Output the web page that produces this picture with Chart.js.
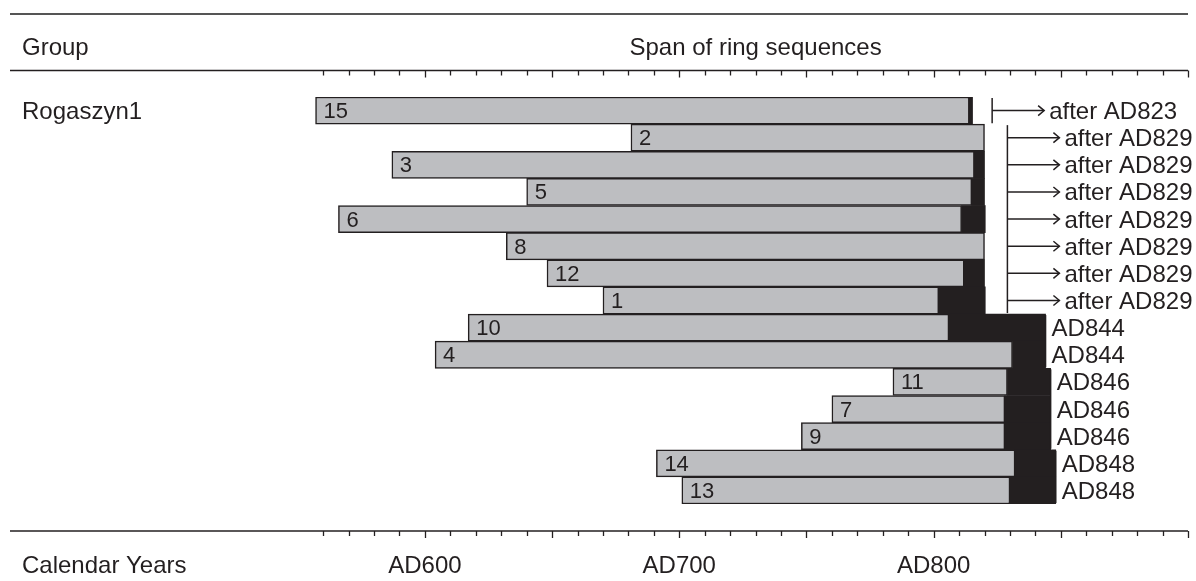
<!DOCTYPE html>
<html>
<head>
    <title>Rogaszyn1 ring sequences</title>
    <script src="https://cdn.jsdelivr.net/npm/chart.js"></script>
    <style>
        body { margin: 0; background: #fff; }
    </style>
</head>
<body>
    <canvas id="spanChart" width="1196" height="581"></canvas>
    <script>
        // samples, top to bottom
        const samples = ['15', '2', '3', '5', '6', '8', '12', '1', '10', '4', '11', '7', '9', '14', '13'];
        // first ring (grey part starts)
        const firstYear = [557, 681, 587, 640, 566, 632, 648, 670, 617, 604, 784, 760, 748, 691, 701];
        // end of heartwood (grey part ends)
        const heartEnd = [814, 820, 816, 815, 811, 820, 812, 802, 806, 831, 829, 828, 828, 832, 830];
        // end of sapwood (black part ends), null = none
        const sapEnd = [815.3, null, 820, 820, 820.3, null, 820, 820.3, 844, 844, 846, 846, 846, 848, 848];
        // felling dates
        const fellYear = [823, 829, 829, 829, 829, 829, 829, 829, 844, 844, 846, 846, 846, 848, 848];
        const fellText = ['after AD823', 'after AD829', 'after AD829', 'after AD829', 'after AD829',
            'after AD829', 'after AD829', 'after AD829', 'AD844', 'AD844', 'AD846', 'AD846', 'AD846', 'AD848', 'AD848'];
        const groupName = 'Rogaszyn1';
        const axisYears = [600, 700, 800];
        const axisLabels = ['AD600', 'AD700', 'AD800'];
        const tickFrom = 560, tickTo = 900;

        const ink = '#231f20';
        const font = '"Liberation Sans", Arial, sans-serif';

        function txt(ctx, s, x, y, size, align) {
            ctx.font = size + 'px ' + font;
            ctx.textAlign = align || 'left';
            ctx.textBaseline = 'alphabetic';
            ctx.fillText(s, x, y);
        }

        const decor = {
            id: 'decor',
            afterDraw(chart) {
                const ctx = chart.ctx;
                const xs = chart.scales.x, ys = chart.scales.y;
                const band = ys.height / samples.length;
                const x0 = 10, x1 = xs.getPixelForValue(tickTo);
                ctx.save();
                ctx.fillStyle = ink;
                ctx.strokeStyle = ink;

                // horizontal rules
                ctx.lineWidth = 2;
                ctx.strokeStyle = '#555';
                ctx.beginPath(); ctx.moveTo(x0, 14); ctx.lineTo(x1, 14); ctx.stroke();
                ctx.strokeStyle = ink;
                ctx.lineWidth = 1.3;
                [70.5, 531].forEach(y => {
                    ctx.beginPath(); ctx.moveTo(x0, y); ctx.lineTo(x1, y); ctx.stroke();
                    for (let yr = tickFrom; yr <= tickTo; yr += 10) {
                        const px = Math.round(xs.getPixelForValue(yr)) + 0.5;
                        const len = yr % 50 === 0 ? 7 : 5;
                        ctx.beginPath(); ctx.moveTo(px, y); ctx.lineTo(px, y + len); ctx.stroke();
                    }
                });

                // headings
                txt(ctx, 'Group', 22, 55, 24);
                txt(ctx, 'Span of ring sequences', (xs.getPixelForValue(tickFrom) + x1) / 2, 55, 24, 'center');
                txt(ctx, 'Calendar Years', 22, 573, 24);
                axisYears.forEach((yr, i) => txt(ctx, axisLabels[i], xs.getPixelForValue(yr), 573, 24, 'center'));
                txt(ctx, groupName, 22, ys.getPixelForValue(0) + 8.5, 24);

                // sample numbers inside bars
                samples.forEach((s, i) => {
                    txt(ctx, s, xs.getPixelForValue(firstYear[i]) + 8, ys.getPixelForValue(i) + 7.5, 22);
                });

                // felling brackets
                ctx.lineWidth = 1.5;
                let i = 0;
                while (i < samples.length) {
                    let j = i;
                    while (j + 1 < samples.length && fellYear[j + 1] === fellYear[i]) j++;
                    const px = xs.getPixelForValue(fellYear[i]);
                    ctx.beginPath();
                    ctx.moveTo(px, ys.getPixelForValue(i) - band / 2 + 1);
                    ctx.lineTo(px, ys.getPixelForValue(j) + band / 2 - 1);
                    ctx.stroke();
                    i = j + 1;
                }
                samples.forEach((s, k) => {
                    const px = xs.getPixelForValue(fellYear[k]);
                    const cy = ys.getPixelForValue(k);
                    if (fellText[k].startsWith('after')) {
                        const tip = px + 52;
                        ctx.beginPath(); ctx.moveTo(px, cy); ctx.lineTo(tip, cy); ctx.stroke();
                        ctx.beginPath(); ctx.moveTo(tip - 6, cy - 5); ctx.lineTo(tip, cy); ctx.lineTo(tip - 6, cy + 5); ctx.stroke();
                        txt(ctx, fellText[k], tip + 5, cy + 8.5, 24);
                    } else {
                        txt(ctx, fellText[k], px + 6, cy + 8.5, 24);
                    }
                });
                ctx.restore();
            }
        };

        const ctx = document.getElementById('spanChart').getContext('2d');
        new Chart(ctx, {
            type: 'bar',
            data: {
                labels: samples,
                datasets: [
                    {
                        label: 'sapwood',
                        data: samples.map((s, i) => sapEnd[i] === null ? null : [heartEnd[i], sapEnd[i]]),
                        backgroundColor: ink,
                        borderWidth: 0,
                        grouped: false,
                        barPercentage: 1,
                        categoryPercentage: 1
                    },
                    {
                        label: 'heartwood',
                        data: samples.map((s, i) => [firstYear[i], heartEnd[i]]),
                        backgroundColor: '#bdbec1',
                        borderColor: ink,
                        borderWidth: 1.5,
                        borderSkipped: false,
                        grouped: false,
                        barPercentage: 1,
                        categoryPercentage: 1
                    }
                ]
            },
            options: {
                indexAxis: 'y',
                responsive: false,
                animation: false,
                layout: { padding: { left: 313, right: 8, top: 97, bottom: 77 } },
                scales: {
                    x: { type: 'linear', min: 556, max: 900, display: false },
                    y: { display: false }
                },
                plugins: {
                    legend: { display: false },
                    tooltip: { enabled: false }
                }
            },
            plugins: [decor]
        });
    </script>
</body>
</html>
